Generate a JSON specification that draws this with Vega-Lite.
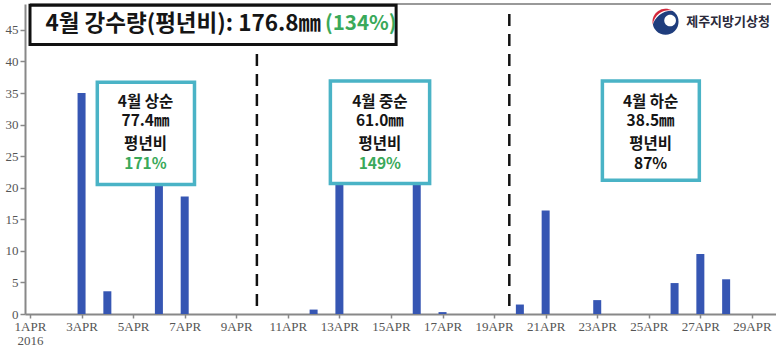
{
  "$schema": "https://vega.github.io/schema/vega-lite/v6.json",
  "width": 751,
  "height": 310,
  "autosize": {"type": "none"},
  "padding": {"left": 25, "top": 4, "right": 0, "bottom": 37},
  "background": "white",
  "config": {"view": {"stroke": null}, "font": "Noto Sans CJK KR"},
  "datasets": {
    "bars": [
      {"x": 3, "y": 35.0}, {"x": 4, "y": 3.6}, {"x": 6, "y": 20.5}, {"x": 7, "y": 18.6},
      {"x": 12, "y": 0.7}, {"x": 13, "y": 28.5}, {"x": 16, "y": 30.0}, {"x": 17, "y": 0.3},
      {"x": 20, "y": 1.5}, {"x": 21, "y": 16.4}, {"x": 23, "y": 2.2}, {"x": 26, "y": 4.9},
      {"x": 27, "y": 9.5}, {"x": 28, "y": 5.5}
    ],
    "top": [{"x": 1, "x2": 29.74, "y": 49.1}],
    "seps": [{"x": 9.8, "y": 47.5, "y2": 0}, {"x": 19.59, "y": 47.5, "y2": 0}],
    "boxes": [
      {"x": 3.61, "x2": 7.38, "y": 36.7, "y2": 20.5},
      {"x": 12.65, "x2": 16.5, "y": 36.9, "y2": 20.65},
      {"x": 23.2, "x2": 26.96, "y": 36.9, "y2": 21.2}
    ],
    "texts": [
      {"x": 5.48, "y": 33.6, "t": "4월 상순", "k": "label"},
      {"x": 5.48, "y": 30.5, "t": "77.4㎜", "k": "label"},
      {"x": 5.48, "y": 26.9, "t": "평년비", "k": "label"},
      {"x": 5.48, "y": 23.8, "t": "171%", "k": "above"},
      {"x": 14.57, "y": 33.6, "t": "4월 중순", "k": "label"},
      {"x": 14.57, "y": 30.5, "t": "61.0㎜", "k": "label"},
      {"x": 14.57, "y": 26.9, "t": "평년비", "k": "label"},
      {"x": 14.57, "y": 23.8, "t": "149%", "k": "above"},
      {"x": 25.07, "y": 33.6, "t": "4월 하순", "k": "label"},
      {"x": 25.07, "y": 30.5, "t": "38.5㎜", "k": "label"},
      {"x": 25.07, "y": 26.9, "t": "평년비", "k": "label"},
      {"x": 25.07, "y": 23.8, "t": "87%", "k": "label"}
    ],
    "titlebox": [{"x": 1, "x2": 15.2, "y": 48.9, "y2": 42.7}],
    "titletext": [
      {"x": 12.29, "y": 45.95, "t": "4월 강수량(평년비): 176.8㎜", "k": "label"},
      {"x": 12.44, "y": 45.95, "t": "(134%)", "k": "above"}
    ],
    "logo": [{"x": 25.65, "y": 46.28}],
    "logotext": [{"x": 26.45, "y": 46.28, "t": "제주지방기상청"}]
  },
  "layer": [
    {
      "data": {"name": "bars"},
      "mark": {"type": "bar", "width": 8, "color": "#3656b3"},
      "encoding": {
        "x": {
          "field": "x", "type": "quantitative",
          "scale": {"domain": [1, 29.74], "nice": false, "zero": false},
          "axis": {
            "title": null, "grid": false,
            "values": [1, 3, 5, 7, 9, 11, 13, 15, 17, 19, 21, 23, 25, 27, 29],
            "labelExpr": "datum.value == 1 ? ['1APR', '2016'] : datum.value + 'APR'",
            "labelFont": "Liberation Serif",
            "labelFontSize": 13, "labelColor": "#555555", "labelLineHeight": 14,
            "labelPadding": 2, "labelOverlap": false, "labelFlush": false,
            "tickSize": 4, "tickColor": "#888888", "tickWidth": 1.5,
            "domainColor": "#888888", "domainWidth": 2
          }
        },
        "y": {
          "field": "y", "type": "quantitative",
          "scale": {"domain": [0, 49.1], "nice": false},
          "axis": {
            "title": null, "grid": false,
            "values": [0, 5, 10, 15, 20, 25, 30, 35, 40, 45],
            "tickCount": 10,
            "labelFont": "Liberation Serif",
            "labelFontSize": 13, "labelColor": "#555555", "labelPadding": 2,
            "labelOverlap": false, "labelBound": false, "labelSeparation": 0,
            "tickSize": 5, "tickColor": "#888888", "tickWidth": 1.5,
            "domainColor": "#888888", "domainWidth": 2
          }
        }
      }
    },
    {
      "data": {"name": "top"},
      "mark": {"type": "rule", "color": "#999999", "strokeWidth": 2},
      "encoding": {
        "x": {"field": "x", "type": "quantitative"},
        "x2": {"field": "x2"},
        "y": {"field": "y", "type": "quantitative"}
      }
    },
    {
      "data": {"name": "seps"},
      "mark": {"type": "rule", "color": "#111111", "strokeWidth": 2.5, "strokeDash": [12, 8]},
      "encoding": {
        "x": {"field": "x", "type": "quantitative"},
        "y": {"field": "y", "type": "quantitative"},
        "y2": {"field": "y2"}
      }
    },
    {
      "data": {"name": "boxes"},
      "mark": {"type": "rect", "fill": "white", "stroke": "#4ab3c6", "strokeWidth": 3.5},
      "encoding": {
        "x": {"field": "x", "type": "quantitative"},
        "x2": {"field": "x2"},
        "y": {"field": "y", "type": "quantitative"},
        "y2": {"field": "y2"}
      }
    },
    {
      "data": {"name": "texts"},
      "mark": {"type": "text", "font": "Noto Sans CJK KR", "fontSize": 15.5, "fontWeight": "bold", "align": "center", "baseline": "middle", "lineHeight": 15.5},
      "encoding": {
        "x": {"field": "x", "type": "quantitative"},
        "y": {"field": "y", "type": "quantitative"},
        "text": {"field": "t"},
        "color": {"field": "k", "type": "nominal", "scale": {"domain": ["label", "above"], "range": ["#151515", "#3aa95a"]}, "legend": null}
      }
    },
    {
      "data": {"name": "titlebox"},
      "mark": {"type": "rect", "fill": "white", "stroke": "#111111", "strokeWidth": 3},
      "encoding": {
        "x": {"field": "x", "type": "quantitative"},
        "x2": {"field": "x2"},
        "y": {"field": "y", "type": "quantitative"},
        "y2": {"field": "y2"}
      }
    },
    {
      "data": {"name": "titletext"},
      "transform": [{"filter": "datum.k == 'label'"}],
      "mark": {"type": "text", "font": "Noto Sans CJK KR", "fontSize": 22.5, "fontWeight": "bold", "align": "right", "baseline": "middle", "color": "#151515"},
      "encoding": {
        "x": {"field": "x", "type": "quantitative"},
        "y": {"field": "y", "type": "quantitative"},
        "text": {"field": "t"}
      }
    },
    {
      "data": {"name": "titletext"},
      "transform": [{"filter": "datum.k == 'above'"}],
      "mark": {"type": "text", "font": "Noto Sans CJK KR", "fontSize": 20.5, "fontWeight": "bold", "align": "left", "baseline": "middle", "color": "#3aa95a"},
      "encoding": {
        "x": {"field": "x", "type": "quantitative"},
        "y": {"field": "y", "type": "quantitative"},
        "text": {"field": "t"}
      }
    },
    {
      "data": {"name": "logo"},
      "mark": {"type": "point", "shape": "circle", "filled": true, "size": 676, "color": "#1f3d7d", "opacity": 1, "strokeWidth": 0},
      "encoding": {
        "x": {"field": "x", "type": "quantitative"},
        "y": {"field": "y", "type": "quantitative"}
      }
    },
    {
      "data": {"name": "logo"},
      "mark": {"type": "point", "shape": "M -0.1 -0.1 A 0.45 0.45 0 1 0 0.8 -0.1 A 0.45 0.45 0 1 0 -0.1 -0.1 Z", "filled": true, "size": 676, "color": "white", "opacity": 1, "strokeWidth": 0},
      "encoding": {
        "x": {"field": "x", "type": "quantitative"},
        "y": {"field": "y", "type": "quantitative"}
      }
    },
    {
      "data": {"name": "logo"},
      "mark": {"type": "point", "shape": "M -1.0 0.3 A 1.05 1.05 0 0 1 0.62 -0.85 A 1.5 1.5 0 0 0 -1.0 0.3 Z", "filled": true, "size": 676, "color": "white", "opacity": 1, "strokeWidth": 0},
      "encoding": {
        "x": {"field": "x", "type": "quantitative"},
        "y": {"field": "y", "type": "quantitative"}
      }
    },
    {
      "data": {"name": "logo"},
      "mark": {"type": "point", "shape": "M -0.98 0.2 A 1 1 0 0 1 0.5 -0.87 A 1.25 1.25 0 0 0 -0.98 0.2 Z", "filled": true, "size": 676, "color": "#d3283b", "opacity": 1, "strokeWidth": 0},
      "encoding": {
        "x": {"field": "x", "type": "quantitative"},
        "y": {"field": "y", "type": "quantitative"}
      }
    },
    {
      "data": {"name": "logotext"},
      "mark": {"type": "text", "font": "Noto Sans CJK KR", "fontSize": 13, "fontWeight": "bold", "align": "left", "baseline": "middle", "color": "#2b2b3b"},
      "encoding": {
        "x": {"field": "x", "type": "quantitative"},
        "y": {"field": "y", "type": "quantitative"},
        "text": {"field": "t"}
      }
    }
  ]
}
